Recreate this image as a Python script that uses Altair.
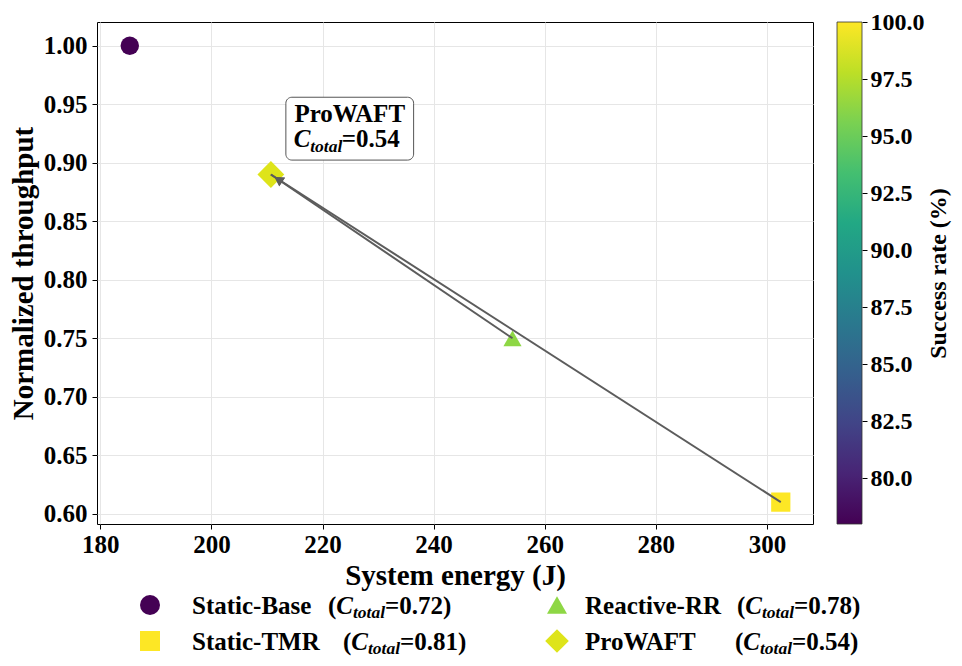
import math
import altair as alt
import pandas as pd

# ---------------- data ----------------
methods = ["Static-Base", "Reactive-RR", "Static-TMR", "ProWAFT"]
energy_j = [185.3, 254.2, 302.5, 210.7]
norm_throughput = [1.00, 0.75, 0.61, 0.89]
success_rate = [78.0, 96.3, 100.0, 98.9]
c_total = [0.72, 0.78, 0.81, 0.54]

x_ticks = [180, 200, 220, 240, 260, 280, 300]
y_ticks = [0.60, 0.65, 0.70, 0.75, 0.80, 0.85, 0.90, 0.95, 1.00]
cbar_ticks = [80.0, 82.5, 85.0, 87.5, 90.0, 92.5, 95.0, 97.5, 100.0]

arrow_sources = ["Reactive-RR", "Static-TMR"]
arrow_target = "ProWAFT"

x_title = "System energy (J)"
y_title = "Normalized throughput"
cbar_title = "Success rate (%)"
annot_method = "ProWAFT"

# ---------------- layout / style ----------------
W, H = 716, 502
X_DOMAIN = [179.4, 308.3]
Y_DOMAIN = [0.5913, 1.0203]
C_DOMAIN = [78.0, 100.0]
FONT = "Liberation Serif"
ARROW_COLOR = "#5c5c5c"
marker_shapes = {"Static-Base": "circle", "Reactive-RR": "triangle-up",
                 "Static-TMR": "square", "ProWAFT": "diamond"}
marker_sizes = {"Static-Base": 340, "Reactive-RR": 330, "Static-TMR": 370, "ProWAFT": 720}
legend_sizes = {"Static-Base": 400, "Reactive-RR": 400, "Static-TMR": 400, "ProWAFT": 560}

# annotation box (data coords) and its anchor
annot = pd.DataFrame({"x": [224.9], "y": [0.9292], "x_lo": [213.4], "x_hi": [236.4],
                      "y_lo": [0.9023], "y_hi": [0.9560]})

viridis_stops = ["#440154", "#482475", "#414487", "#355f8d", "#2a788e", "#21918c",
                 "#22a884", "#44bf70", "#7ad151", "#bddf26", "#fde725"]

# legend layout (pixels relative to plot origin)
leg_rows = [583, 619]
leg_sym_x = [53, 460]
leg_name_x = [95, 488]
leg_slot = {"Static-Base": (0, 0), "Reactive-RR": (1, 0), "Static-TMR": (0, 1), "ProWAFT": (1, 1)}
leg_group_x = {"Static-Base": 231, "Reactive-RR": 640, "Static-TMR": 246, "ProWAFT": 638}

df = pd.DataFrame({"method": methods, "energy": energy_j, "throughput": norm_throughput,
                   "success": success_rate, "c_total": c_total})
df["ctxt"] = ["=" + f"{v:.2f}" + ")" for v in c_total]
df["ctxt_annot"] = ["=" + f"{v:.2f}" for v in c_total]
df["msize"] = [marker_sizes[m] for m in methods]

xs = alt.Scale(domain=X_DOMAIN, nice=False, zero=False)
ys = alt.Scale(domain=Y_DOMAIN, nice=False, zero=False)
cs = alt.Scale(scheme="viridis", domain=C_DOMAIN)
shp = alt.Scale(domain=methods, range=[marker_shapes[m] for m in methods])

x_axis = alt.Axis(values=x_ticks, title=x_title, format="d", labelFlush=False,
                  labelPadding=3, titlePadding=4, tickSize=5, grid=True)
y_axis = alt.Axis(values=y_ticks, title=y_title, format=".2f", labelFlush=False,
                  labelPadding=5, titlePadding=5, tickSize=5, grid=True)

points = alt.Chart(df).mark_point(filled=True, opacity=1, strokeWidth=0).encode(
    x=alt.X("energy:Q", scale=xs, axis=x_axis),
    y=alt.Y("throughput:Q", scale=ys, axis=y_axis),
    color=alt.Color("success:Q", scale=cs, legend=None),
    shape=alt.Shape("method:N", scale=shp, legend=None),
    size=alt.Size("msize:Q", scale=None, legend=None),
)

# arrows
px_x = W / (X_DOMAIN[1] - X_DOMAIN[0])
px_y = H / (Y_DOMAIN[1] - Y_DOMAIN[0])
idx = df.set_index("method")
rows = []
for s in arrow_sources:
    x0, y0 = idx.loc[s, "energy"], idx.loc[s, "throughput"]
    x1, y1 = idx.loc[arrow_target, "energy"], idx.loc[arrow_target, "throughput"]
    dxp = (x1 - x0) * px_x
    dyp = -(y1 - y0) * px_y
    ang = math.degrees(math.atan2(dxp, -dyp)) % 360
    rows.append({"x": x0, "y": y0, "x2": x1, "y2": y1, "angle": ang})
arrows = pd.DataFrame(rows)

rules = alt.Chart(arrows).mark_rule(color=ARROW_COLOR, strokeWidth=2).encode(
    x=alt.X("x:Q", scale=xs, axis=x_axis), y=alt.Y("y:Q", scale=ys, axis=y_axis),
    x2="x2:Q", y2="y2:Q")
heads = alt.Chart(arrows).mark_point(shape="triangle-up", filled=True, size=110, opacity=1,
                                     color=ARROW_COLOR, xOffset=7.5, yOffset=5).encode(
    x=alt.X("x2:Q", scale=xs, axis=x_axis), y=alt.Y("y2:Q", scale=ys, axis=y_axis),
    angle=alt.Angle("angle:Q", scale=None))

box = alt.Chart(annot).mark_rect(fill="white", stroke="#555555", strokeWidth=1, cornerRadius=6).encode(
    x=alt.X("x_lo:Q", scale=xs, axis=x_axis), x2="x_hi:Q",
    y=alt.Y("y_lo:Q", scale=ys, axis=y_axis), y2="y_hi:Q")

annot_row = df[df.method == annot_method].reset_index(drop=True)
annot_df = pd.concat([annot_row, annot[["x", "y"]]], axis=1)


def annot_text(text=None, field=None, dx=0, dy=0, size=25, style="normal", align="left"):
    kw = dict(font=FONT, fontWeight="bold", fontSize=size, fontStyle=style, align=align,
              baseline="alphabetic", dx=dx, dy=dy, color="black")
    if text is not None:
        kw["text"] = text
    enc = dict(x=alt.X("x:Q", scale=xs, axis=x_axis), y=alt.Y("y:Q", scale=ys, axis=y_axis))
    if field is not None:
        enc["text"] = alt.Text(field)
    return alt.Chart(annot_df).mark_text(**kw).encode(**enc)


annot_layers = [
    annot_text(field="method:N", dx=0, dy=-6.6, align="center"),
    annot_text(text="C", dx=-56, dy=18.4, style="italic"),
    annot_text(text="total", dx=-39.5, dy=23, size=17.5, style="italic"),
    annot_text(field="ctxt_annot:N", dx=-8, dy=18.4),
]

main = alt.layer(points, rules, heads, box, *annot_layers)

# colorbar
cbar_df = pd.DataFrame({"lo": [C_DOMAIN[0]], "hi": [C_DOMAIN[1]]})
grad = alt.LinearGradient(
    gradient="linear",
    stops=[alt.GradientStop(color=c, offset=i / (len(viridis_stops) - 1)) for i, c in enumerate(viridis_stops)],
    x1=0, x2=0, y1=1, y2=0)
cbar = alt.Chart(cbar_df).mark_rect(fill=grad, stroke="#333333", strokeWidth=0.8).encode(
    x=alt.value(740), x2=alt.value(765),
    y=alt.Y("lo:Q", scale=alt.Scale(domain=C_DOMAIN, nice=False, zero=False),
            axis=alt.Axis(orient="right", offset=49, values=cbar_ticks, format=".1f",
                          title=cbar_title, titleAngle=270, titleBaseline="top",
                          titleFontSize=24, titlePadding=2, labelFontSize=24,
                          grid=False, tickSize=5, labelPadding=3, labelFlush=False)),
    y2="hi:Q")

# bottom legend
legend_layers = []
for m in methods:
    col, row = leg_slot[m]
    yc = leg_rows[row]
    sub = alt.Chart(df).transform_filter(alt.datum.method == m)
    legend_layers.append(sub.mark_point(filled=True, opacity=1, strokeWidth=0, size=legend_sizes[m]).encode(
        x=alt.value(leg_sym_x[col]), y=alt.value(yc),
        color=alt.Color("success:Q", scale=cs, legend=None),
        shape=alt.Shape("method:N", scale=shp, legend=None)))
    base_kw = dict(font=FONT, fontWeight="bold", align="left", baseline="alphabetic", color="black")
    yb = yc + 8.5
    gx = leg_group_x[m]
    legend_layers.append(sub.mark_text(fontSize=25, **base_kw).encode(
        x=alt.value(leg_name_x[col]), y=alt.value(yb), text="method:N"))
    legend_layers.append(sub.mark_text(fontSize=25, text="(", **base_kw).encode(
        x=alt.value(gx), y=alt.value(yb)))
    legend_layers.append(sub.mark_text(fontSize=25, text="C", fontStyle="italic", **base_kw).encode(
        x=alt.value(gx + 8.3), y=alt.value(yb)))
    legend_layers.append(sub.mark_text(fontSize=17.5, text="total", fontStyle="italic", **base_kw).encode(
        x=alt.value(gx + 25), y=alt.value(yb + 4.5)))
    legend_layers.append(sub.mark_text(fontSize=25, **base_kw).encode(
        x=alt.value(gx + 57), y=alt.value(yb), text="ctxt:N"))

chart = alt.layer(main, cbar, *legend_layers).resolve_scale(y="independent").properties(
    width=W, height=H,
    autosize=alt.AutoSizeParams(type="none"),
    padding={"left": 89, "top": 14, "right": 141, "bottom": 133},
).configure_view(stroke="black", strokeWidth=1).configure_axis(
    labelFont=FONT, titleFont=FONT, labelFontWeight="bold", titleFontWeight="bold",
    labelFontSize=25, titleFontSize=29, labelColor="black", titleColor="black",
    tickColor="black", tickWidth=1, domain=False, gridColor="#e6e6e6", gridWidth=1,
)

chart.save("out.html", embed_options={"renderer": "svg", "actions": False})
